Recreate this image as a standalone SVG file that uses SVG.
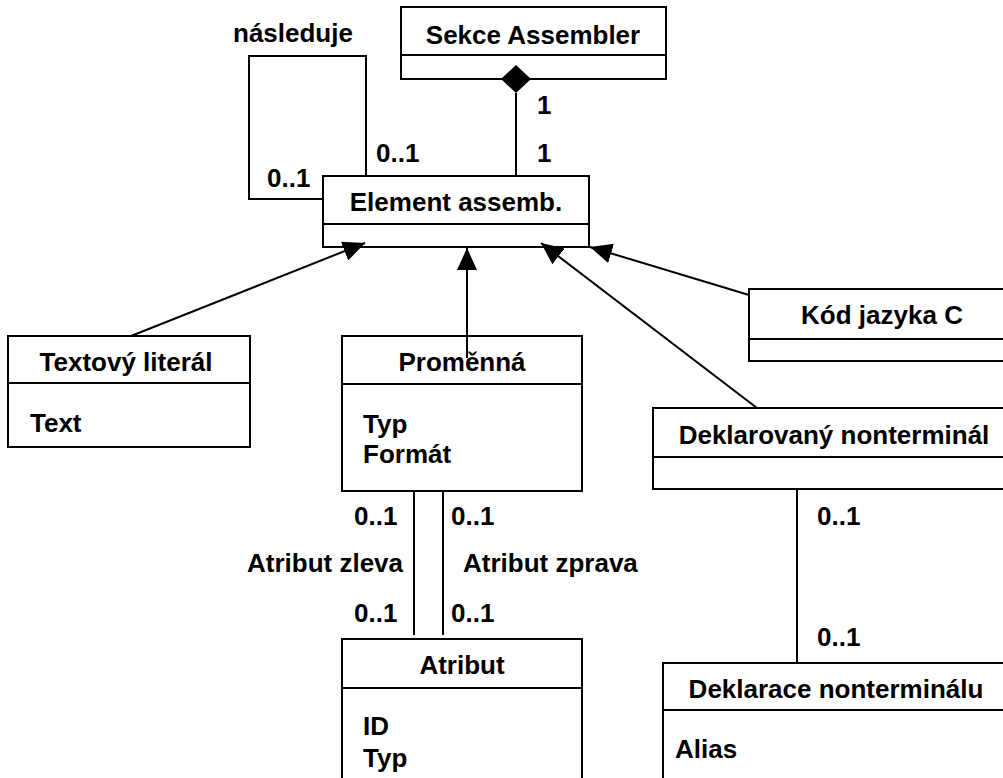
<svg xmlns="http://www.w3.org/2000/svg" width="1003" height="778" viewBox="0 0 1003 778">
  <style>
    .box { fill: #ffffff; stroke: #000000; stroke-width: 2; }
    .sep { stroke: #000000; stroke-width: 2; }
    .line { fill: none; stroke: #000000; stroke-width: 2; }
    text { font-family: "Liberation Sans", Arial, sans-serif; font-weight: bold; font-size: 26px; fill: #000000; }
    .c { text-anchor: middle; }
  </style>
  <defs>
    <!-- filled generalization arrowhead, tip at the path end -->
    <marker id="arrow" viewBox="0 0 22 20" refX="22" refY="10" markerWidth="22" markerHeight="20" markerUnits="userSpaceOnUse" orient="auto">
      <path d="M0,0 L22,10 L0,20 z" fill="#000000"/>
    </marker>
  </defs>
  <rect width="1003" height="778" fill="#ffffff"/>

  <g id="sekce-assembler">
    <rect class="box" x="401" y="7" width="265" height="72"/>
    <line class="sep" x1="401" y1="55" x2="666" y2="55"/>
    <text class="c" x="533" y="44">Sekce Assembler</text>
    <path d="M516,65 L531,79 L516,93 L501,79 z" fill="#000000"/>
  </g>

  <g id="element-assemb">
    <rect class="box" x="323" y="176" width="266" height="71"/>
    <line class="sep" x1="323" y1="224" x2="589" y2="224"/>
    <text class="c" x="456" y="211">Element assemb.</text>
  </g>

  <g id="textovy-literal">
    <rect class="box" x="8" y="336" width="242" height="111"/>
    <line class="sep" x1="8" y1="383" x2="250" y2="383"/>
    <text class="c" x="126" y="371">Textový literál</text>
    <text x="30" y="432">Text</text>
  </g>

  <g id="promenna">
    <rect class="box" x="342" y="336" width="240" height="155"/>
    <line class="sep" x1="342" y1="384" x2="582" y2="384"/>
    <text class="c" x="462" y="371">Proměnná</text>
    <text x="363" y="433">Typ</text>
    <text x="363" y="463">Formát</text>
  </g>

  <g id="kod-jazyka-c">
    <rect class="box" x="749" y="289" width="280" height="72"/>
    <line class="sep" x1="749" y1="339" x2="1029" y2="339"/>
    <text class="c" x="882" y="324">Kód jazyka C</text>
  </g>

  <g id="deklarovany-nonterminal">
    <rect class="box" x="653" y="408" width="380" height="81"/>
    <line class="sep" x1="653" y1="457" x2="1033" y2="457"/>
    <text class="c" x="834" y="444">Deklarovaný nonterminál</text>
  </g>

  <g id="atribut">
    <rect class="box" x="342" y="639" width="240" height="160"/>
    <line class="sep" x1="342" y1="688" x2="582" y2="688"/>
    <text class="c" x="462" y="674">Atribut</text>
    <text x="363" y="735">ID</text>
    <text x="363" y="767">Typ</text>
  </g>

  <g id="deklarace-nonterminalu">
    <rect class="box" x="663" y="663" width="380" height="140"/>
    <line class="sep" x1="663" y1="710" x2="1043" y2="710"/>
    <text class="c" x="836" y="698">Deklarace nonterminálu</text>
    <text x="675" y="758">Alias</text>
  </g>

  <!-- connectors, drawn over the boxes -->
  <g id="connectors">
    <!-- self association "následuje" -->
    <path class="line" d="M366,176 V56 H249 V199 H323"/>
    <!-- composition Sekce Assembler - Element assemb. -->
    <line class="line" x1="516" y1="93" x2="516" y2="176"/>
    <!-- generalizations -->
    <line class="line" x1="131" y1="336" x2="365" y2="243" marker-end="url(#arrow)"/>
    <line class="line" x1="467" y1="358" x2="467" y2="248" marker-end="url(#arrow)"/>
    <line class="line" x1="757" y1="408" x2="541" y2="243" marker-end="url(#arrow)"/>
    <line class="line" x1="749" y1="295" x2="590" y2="247" marker-end="url(#arrow)"/>
    <!-- Proměnná - Atribut associations -->
    <line class="line" x1="414" y1="491" x2="414" y2="635"/>
    <line class="line" x1="443" y1="491" x2="443" y2="635"/>
    <!-- Deklarovaný nonterminál - Deklarace nonterminálu -->
    <line class="line" x1="797" y1="489" x2="797" y2="662"/>
  </g>

  <!-- association labels and multiplicities -->
  <g id="labels">
    <text x="233" y="42">následuje</text>
    <text x="376" y="162">0..1</text>
    <text x="267" y="187">0..1</text>
    <text x="537" y="114">1</text>
    <text x="537" y="162">1</text>
    <text x="354" y="525">0..1</text>
    <text x="451" y="525">0..1</text>
    <text x="247" y="572">Atribut zleva</text>
    <text x="463" y="572">Atribut zprava</text>
    <text x="354" y="622">0..1</text>
    <text x="451" y="622">0..1</text>
    <text x="817" y="525">0..1</text>
    <text x="817" y="646">0..1</text>
  </g>
</svg>
